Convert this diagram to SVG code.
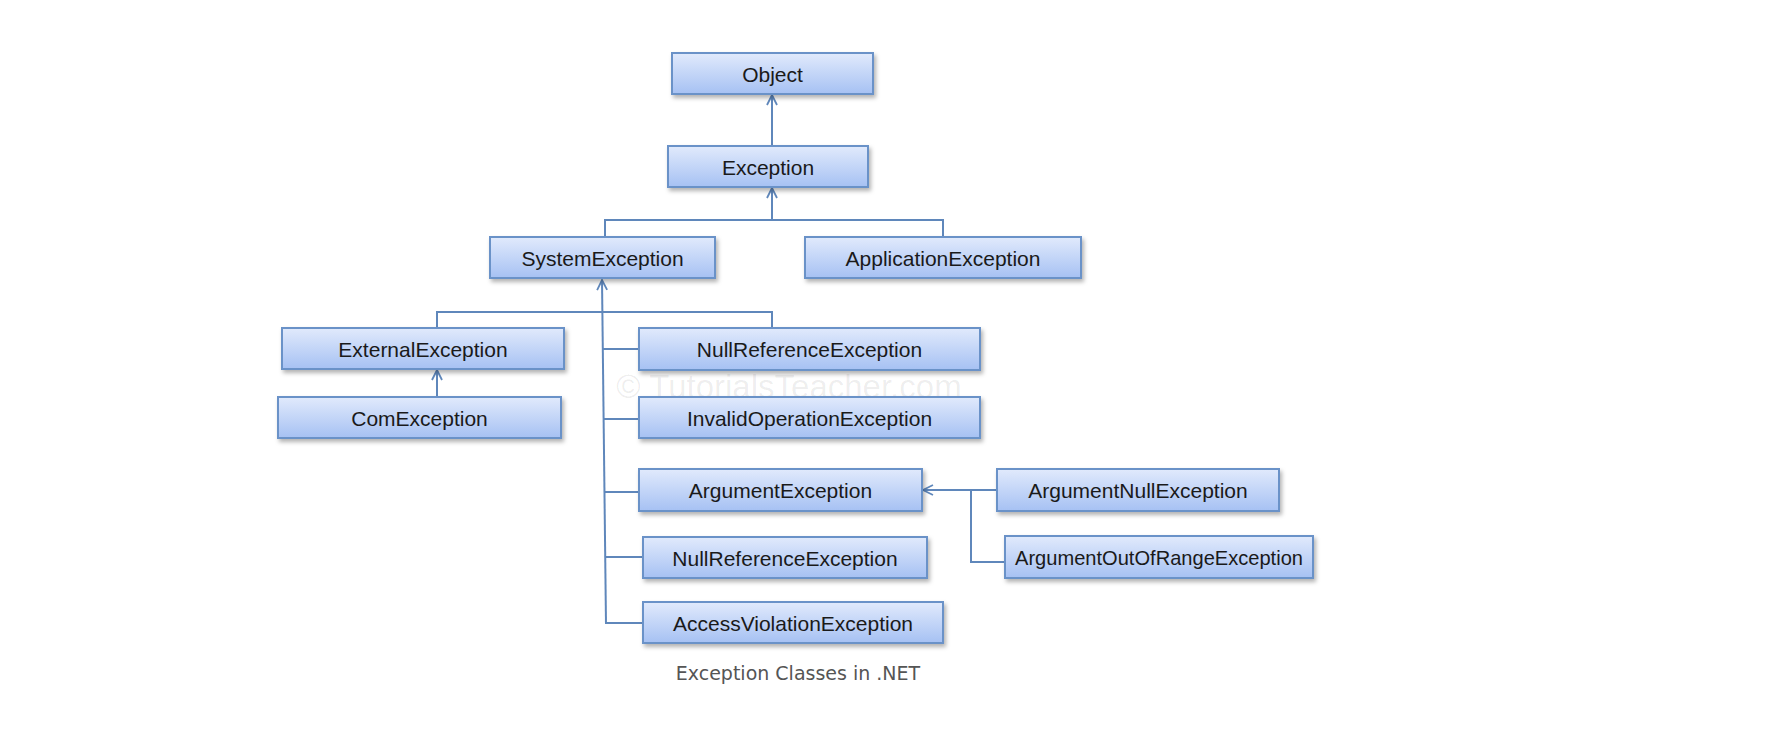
<svg xmlns="http://www.w3.org/2000/svg" width="1788" height="754" viewBox="0 0 1788 754">
<defs>
<linearGradient id="g" x1="0" y1="0" x2="0" y2="1">
<stop offset="0" stop-color="#e1eafc"/>
<stop offset="1" stop-color="#a6c1f3"/>
</linearGradient>
<filter id="sh" x="-5%" y="-20%" width="115%" height="160%">
<feDropShadow dx="2" dy="3" stdDeviation="2" flood-color="#000" flood-opacity="0.3"/>
</filter>
<marker id="arr" viewBox="0 0 12 12" refX="11" refY="6" markerWidth="12" markerHeight="12" markerUnits="userSpaceOnUse" orient="auto">
<path d="M1,1 L11,6 L1,11" fill="none" stroke="#5f87bb" stroke-width="1.8"/>
</marker>
<style>
.box{fill:url(#g);stroke:#6a92c8;stroke-width:2;filter:url(#sh)}
.lbl{font-family:"Liberation Sans",Arial,sans-serif;font-size:21px;fill:#1a1a1a;text-anchor:middle;dominant-baseline:central}
.c{fill:none;stroke:#5f87bb;stroke-width:2}
.cap{font-family:"DejaVu Sans",Verdana,sans-serif;font-size:19px;fill:#555;text-anchor:middle}
.wm{font-family:"Liberation Sans",Arial,sans-serif;font-size:33px;fill:#000;fill-opacity:0.07;text-anchor:middle}
</style>
</defs>
<rect width="1788" height="754" fill="#fff"/>
<text class="wm" x="789" y="398">© TutorialsTeacher.com</text>
<g id="connectors">
<path class="c" d="M772,146 L772,95" marker-end="url(#arr)"/>
<path class="c" d="M605,237 L605,220 L943,220 L943,237"/>
<path class="c" d="M772,220 L772,188" marker-end="url(#arr)"/>
<path class="c" d="M437,397 L437,370" marker-end="url(#arr)"/>
<path class="c" d="M437,328 L437,312 L772,312 L772,328"/>
<path class="c" d="M606,624 L602,280" marker-end="url(#arr)"/>
<path class="c" d="M602,349 L639,349"/>
<path class="c" d="M603,419 L639,419"/>
<path class="c" d="M604,492 L639,492"/>
<path class="c" d="M605,557 L643,557"/>
<path class="c" d="M606,623 L643,623"/>
<path class="c" d="M997,490 L923,490" marker-end="url(#arr)"/>
<path class="c" d="M971,490 L971,562 L1005,562"/>
</g>
<g id="object"><rect class="box" x="672" y="53" width="201" height="41"/><text class="lbl" x="772.5" y="74">Object</text></g>
<g id="exception"><rect class="box" x="668" y="146" width="200" height="41"/><text class="lbl" x="768" y="167">Exception</text></g>
<g id="systemexception"><rect class="box" x="490" y="237" width="225" height="41"/><text class="lbl" x="602.5" y="258">SystemException</text></g>
<g id="applicationexception"><rect class="box" x="805" y="237" width="276" height="41"/><text class="lbl" x="943" y="258">ApplicationException</text></g>
<g id="externalexception"><rect class="box" x="282" y="328" width="282" height="41"/><text class="lbl" x="423" y="349">ExternalException</text></g>
<g id="comexception"><rect class="box" x="278" y="397" width="283" height="41"/><text class="lbl" x="419.5" y="418">ComException</text></g>
<g id="nullreferenceexception1"><rect class="box" x="639" y="328" width="341" height="42"/><text class="lbl" x="809.5" y="349">NullReferenceException</text></g>
<g id="invalidoperationexception"><rect class="box" x="639" y="397" width="341" height="41"/><text class="lbl" x="809.5" y="418">InvalidOperationException</text></g>
<g id="argumentexception"><rect class="box" x="639" y="469" width="283" height="42"/><text class="lbl" x="780.5" y="490">ArgumentException</text></g>
<g id="nullreferenceexception2"><rect class="box" x="643" y="537" width="284" height="41"/><text class="lbl" x="785" y="558">NullReferenceException</text></g>
<g id="accessviolationexception"><rect class="box" x="643" y="602" width="300" height="41"/><text class="lbl" x="793" y="623">AccessViolationException</text></g>
<g id="argumentnullexception"><rect class="box" x="997" y="469" width="282" height="42"/><text class="lbl" x="1138" y="490">ArgumentNullException</text></g>
<g id="argumentoutofrangeexception"><rect class="box" x="1005" y="536" width="308" height="42"/><text class="lbl" x="1159" y="557" textLength="288" lengthAdjust="spacingAndGlyphs">ArgumentOutOfRangeException</text></g>
<text class="cap" x="798" y="680">Exception Classes in .NET</text>
</svg>
